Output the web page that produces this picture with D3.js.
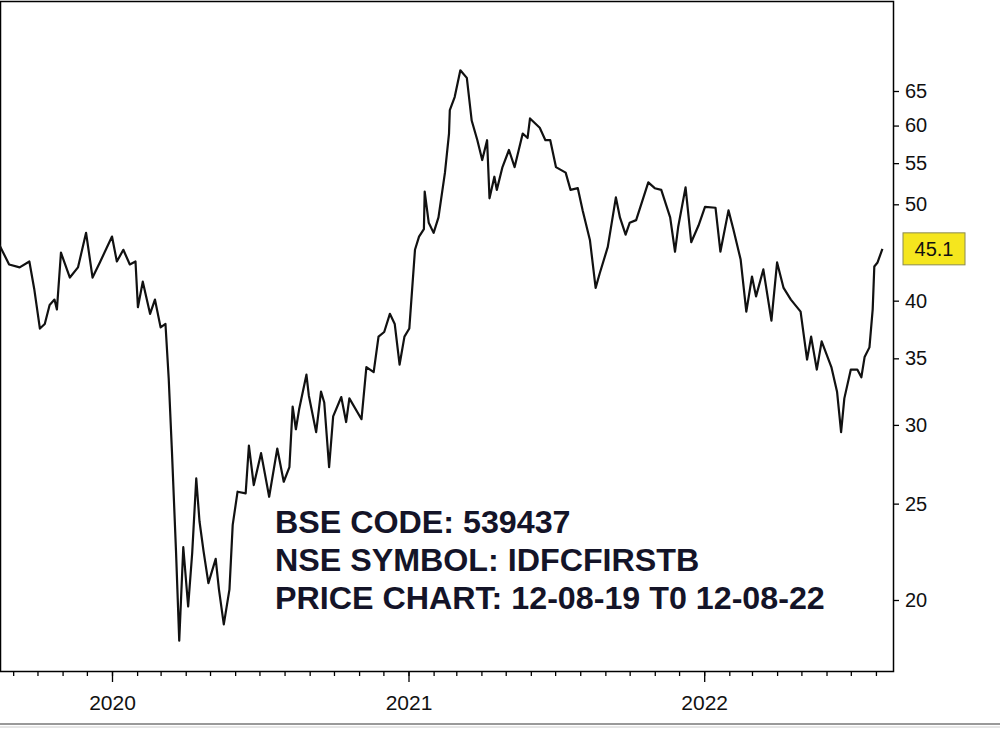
<!DOCTYPE html>
<html>
<head>
<meta charset="utf-8">
<script src="https://cdn.jsdelivr.net/npm/d3@7"></script>
<style>
  body { margin: 0; background: #fff; }
  svg { display: block; font-family: "Liberation Sans", Arial, sans-serif; }
</style>
</head>
<body>
<div id="chart"></div>
<script>
const dates = [
  "2019-08-15","2019-08-27","2019-09-09","2019-09-21","2019-09-27","2019-10-04","2019-10-10","2019-10-16","2019-10-22","2019-10-25",
  "2019-10-30","2019-11-10","2019-11-20","2019-11-30","2019-12-08","2019-12-17","2020-01-01","2020-01-07","2020-01-15","2020-01-23",
  "2020-01-30","2020-02-02","2020-02-08","2020-02-17","2020-02-23","2020-03-01","2020-03-07","2020-03-11","2020-03-15","2020-03-20",
  "2020-03-24","2020-03-29","2020-04-04","2020-04-09","2020-04-14","2020-04-18","2020-04-23","2020-04-29","2020-05-08","2020-05-12",
  "2020-05-18","2020-05-25","2020-05-29","2020-06-04","2020-06-14","2020-06-18","2020-06-24","2020-07-03","2020-07-13","2020-07-23",
  "2020-07-31","2020-08-07","2020-08-11","2020-08-15","2020-08-19","2020-08-28","2020-08-31","2020-09-09","2020-09-15","2020-09-19",
  "2020-09-25","2020-09-30","2020-10-10","2020-10-16","2020-10-20","2020-11-04","2020-11-10","2020-11-19","2020-11-25","2020-12-02",
  "2020-12-09","2020-12-15","2020-12-21","2020-12-27","2021-01-02","2021-01-09","2021-01-14","2021-01-20","2021-01-21","2021-01-26",
  "2021-02-01","2021-02-07","2021-02-15","2021-02-20","2021-02-21","2021-02-27","2021-03-06","2021-03-14","2021-03-20","2021-03-27",
  "2021-04-02","2021-04-08","2021-04-11","2021-04-17","2021-04-20","2021-04-27","2021-05-05","2021-05-12","2021-05-22","2021-05-28",
  "2021-05-31","2021-06-12","2021-06-19","2021-06-25","2021-07-02","2021-07-14","2021-07-20","2021-07-29","2021-08-04","2021-08-13",
  "2021-08-20","2021-08-25","2021-09-04","2021-09-14","2021-09-19","2021-09-26","2021-10-01","2021-10-09","2021-10-24","2021-11-01",
  "2021-11-09","2021-11-20","2021-11-26","2021-11-30","2021-12-09","2021-12-16","2021-12-25","2022-01-02","2022-01-15","2022-01-21",
  "2022-01-31","2022-02-06","2022-02-15","2022-02-22","2022-03-01","2022-03-06","2022-03-15","2022-03-25","2022-04-01","2022-04-09",
  "2022-04-18","2022-04-30","2022-05-08","2022-05-13","2022-05-20","2022-05-26","2022-06-07","2022-06-14","2022-06-19","2022-06-23",
  "2022-07-01","2022-07-09","2022-07-14","2022-07-18","2022-07-24","2022-07-28","2022-07-30","2022-08-03","2022-08-09"
];
const prices = [
  45.5,43.5,43.2,43.8,41.1,37.5,37.9,39.6,40.1,39.2,
  44.7,42.2,43.2,46.8,42.2,43.7,46.4,43.8,45.0,43.5,
  43.8,39.4,41.8,38.8,40.1,37.6,37.9,33.4,28.2,22.4,
  18.2,22.6,19.7,22.3,26.5,24.0,22.4,20.8,22.0,20.5,
  18.9,20.5,23.8,25.7,25.6,28.6,26.1,28.1,25.4,28.4,
  26.3,27.2,31.3,29.7,31.1,33.7,32.1,29.5,32.4,31.6,
  27.2,30.6,32.0,30.2,31.9,30.4,34.3,33.9,36.8,37.2,
  38.8,37.9,34.5,36.8,37.5,45.0,46.4,47.2,51.5,47.9,
  46.8,48.5,53.8,58.9,62.2,64.1,68.2,67.0,60.7,58.0,
  55.4,58.0,50.7,53.3,51.7,54.5,56.7,54.5,58.9,58.3,
  61.0,59.7,58.0,58.0,54.5,53.8,51.7,51.9,49.3,46.0,
  41.2,42.6,45.3,50.8,48.5,46.6,47.9,48.2,52.6,51.9,
  51.7,48.5,44.8,47.5,52.0,45.8,47.6,49.7,49.6,44.8,
  49.3,47.2,44.0,39.0,42.3,40.4,43.0,38.2,43.7,41.2,
  40.1,39.0,34.9,36.8,34.1,36.4,34.3,32.4,29.5,31.9,
  34.1,34.1,33.5,35.1,35.9,39.2,43.3,43.7,45.1
];
// 45 is covered by the last-price box in the reference
const yTicks = [20, 25, 30, 35, 40, 50, 55, 60, 65];
const lastLabel = "45.1";
const infoLines = ["BSE CODE:  539437", "NSE SYMBOL: IDFCFIRSTB", "PRICE CHART: 12-08-19 T0 12-08-22"];

const width = 1000, height = 734;
const plot = { left: 0, top: 1, right: 893, bottom: 671 };
const parse = d3.timeParse("%Y-%m-%d");
const data = dates.map((d, i) => ({ date: parse(d), price: prices[i] }));

const x = d3.scaleTime()
  .domain([parse("2020-01-01"), parse("2021-01-01")])
  .range([112, 408.5]);
const y = d3.scaleLog()
  .domain([20, 65])
  .range([600, 91]);

const svg = d3.select("#chart").append("svg")
  .attr("width", width)
  .attr("height", height);

svg.append("rect")
  .attr("x", plot.left + 0.5).attr("y", plot.top + 0.5)
  .attr("width", plot.right - plot.left).attr("height", plot.bottom - plot.top)
  .attr("fill", "#fff").attr("stroke", "#000").attr("stroke-width", 1.5);

// right axis
const yAxis = svg.append("g")
  .attr("transform", `translate(${plot.right},0)`)
  .call(d3.axisRight(y).tickValues(yTicks).tickFormat(d3.format("d")).tickSize(6).tickPadding(6));
yAxis.select(".domain").remove();
yAxis.selectAll("text").attr("font-size", 20).attr("fill", "#111");
yAxis.selectAll("line").attr("stroke", "#000").attr("stroke-width", 1.3);

// bottom axis: monthly minor ticks, yearly major ticks
const xStart = parse("2019-08-01"), xEnd = parse("2022-09-01");
const months = d3.timeMonth.range(xStart, xEnd).filter(d => x(d) >= 0 && x(d) <= plot.right + 1);
const years = d3.timeYear.range(xStart, xEnd).filter(d => x(d) >= 0 && x(d) <= plot.right);

const minor = svg.append("g")
  .attr("transform", `translate(0,${plot.bottom})`)
  .call(d3.axisBottom(x).tickValues(months).tickFormat("").tickSize(5));
minor.select(".domain").remove();
minor.selectAll("line").attr("stroke", "#000").attr("stroke-width", 1.3);

const major = svg.append("g")
  .attr("transform", `translate(0,${plot.bottom})`)
  .call(d3.axisBottom(x).tickValues(years).tickFormat(d3.timeFormat("%Y")).tickSize(11).tickPadding(13));
major.select(".domain").remove();
major.selectAll("text").attr("font-size", 21).attr("fill", "#111");
major.selectAll("line").attr("stroke", "#000").attr("stroke-width", 1.3);

// price line
svg.append("path")
  .datum(data)
  .attr("fill", "none")
  .attr("stroke", "#111")
  .attr("stroke-width", 2.2)
  .attr("stroke-linejoin", "round")
  .attr("d", d3.line().x(d => x(d.date)).y(d => y(d.price)));

// last price label
const last = data[data.length - 1];
svg.append("rect")
  .attr("x", 903).attr("y", y(last.price) - 16)
  .attr("width", 62).attr("height", 32)
  .attr("fill", "#f5e61e").attr("stroke", "#8a8a50").attr("stroke-width", 1);
svg.append("text")
  .attr("x", 934).attr("y", y(last.price) + 7)
  .attr("text-anchor", "middle").attr("font-size", 20).attr("fill", "#111")
  .text(lastLabel);

// info text
svg.selectAll("text.info")
  .data(infoLines)
  .join("text")
  .attr("class", "info")
  .attr("x", 275)
  .attr("y", (d, i) => 533 + i * 38)
  .attr("font-size", 31)
  .attr("font-weight", "bold")
  .attr("fill", "#141428")
  .attr("transform", "translate(275,0) scale(1.04,1) translate(-275,0)")
  .text(d => d);

// bottom scrollbar strip
svg.append("line").attr("x1", 0).attr("x2", width).attr("y1", 724).attr("y2", 724)
  .attr("stroke", "#999").attr("stroke-width", 2);
svg.append("line").attr("x1", 0).attr("x2", width).attr("y1", 727).attr("y2", 727)
  .attr("stroke", "#ccc").attr("stroke-width", 1);
</script>
</body>
</html>
